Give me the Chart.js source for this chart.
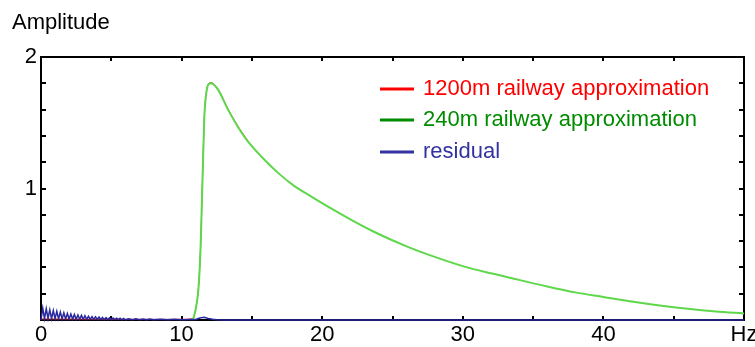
<!DOCTYPE html>
<html>
<head>
<meta charset="utf-8">
<script src="https://cdn.jsdelivr.net/npm/chart.js@4"></script>
<style>
  html, body { margin: 0; padding: 0; background: #fff; }
  #wrap { width: 755px; height: 347px; }
</style>
</head>
<body>
<div id="wrap"><canvas id="chart" width="755" height="347"></canvas></div>
<script>
// Frequency axis (Hz) and amplitudes

// 240m railway approximation
const hzGreen = [10.8, 11.0, 11.2, 11.35, 11.5, 11.62, 11.75, 11.9, 12.1, 12.6, 13.3, 14.0, 14.7,
  15.7, 16.9, 18.0, 19.2, 20.6, 22.0, 23.6, 26.0, 28.0, 30.0, 32.0, 34.0, 36.0, 38.0, 40.0, 42.0,
  44.0, 46.0, 48.0, 50.0];
const green240 = [0.0, 0.08, 0.24, 0.55, 1.12, 1.55, 1.72, 1.79, 1.80, 1.75, 1.60, 1.47, 1.36,
  1.24, 1.115, 1.02, 0.94, 0.85, 0.765, 0.675, 0.56, 0.48, 0.41, 0.355, 0.305, 0.255, 0.21, 0.175,
  0.14, 0.11, 0.085, 0.065, 0.05];

// 1200m railway approximation (flat until ~11 Hz, then under the 240m curve)
const hzRed = [0, 2, 4, 6, 8, 10, 10.8, 11.0, 11.2, 11.35, 11.5, 11.62, 11.75, 11.9, 12.1, 12.6,
  13.3, 14.0, 14.7];
const red1200 = [0.008, 0.007, 0.006, 0.005, 0.005, 0.005, 0.01, 0.085, 0.245, 0.555, 1.125, 1.555,
  1.725, 1.795, 1.805, 1.755, 1.605, 1.475, 1.365];

// residual: ripple near 0 Hz, small bump near 11.5 Hz, then zero
const hzResidual = [0, 0.125, 0.25, 0.375, 0.5, 0.625, 0.75, 0.875, 1.0, 1.125, 1.25, 1.375, 1.5, 1.625,
  1.75, 1.875, 2.0, 2.125, 2.25, 2.375, 2.5, 2.625, 2.75, 2.875, 3.0, 3.125, 3.25, 3.375, 3.5, 3.625,
  3.75, 3.875, 4.0, 4.125, 4.25, 4.375, 4.5, 4.625, 4.75, 4.875, 5.0, 5.125, 5.25, 5.375, 5.5, 5.625,
  5.75, 5.875, 6.0, 6.25, 6.5, 6.75, 7.0, 7.25, 7.5, 7.75, 8.0, 8.5, 9.0, 9.5, 10.0, 10.5, 11.0, 11.3,
  11.6, 11.9, 12.2, 12.5, 13.0, 20.0, 30.0, 40.0, 50.0];
const residual = [0.0, 0.09, 0.01, 0.085, 0.012, 0.078, 0.01, 0.072, 0.01, 0.066, 0.009, 0.06, 0.008,
  0.055, 0.008, 0.05, 0.007, 0.046, 0.007, 0.042, 0.006, 0.038, 0.006, 0.035, 0.005, 0.032, 0.005, 0.029,
  0.005, 0.026, 0.004, 0.024, 0.004, 0.022, 0.004, 0.02, 0.003, 0.018, 0.003, 0.017, 0.003, 0.015, 0.003,
  0.014, 0.003, 0.013, 0.002, 0.012, 0.002, 0.01, 0.002, 0.009, 0.002, 0.008, 0.002, 0.007, 0.002,
  0.006, 0.002, 0.005, 0.002, 0.003, 0.004, 0.015, 0.02, 0.012, 0.006, 0.002, 0.0, 0.0, 0.0, 0.0, 0.0];

const xTicks = [0, 10, 20, 30, 40, 50];
const xTickLabels = ["0", "10", "20", "30", "40", "Hz"];
const yTicks = [0, 1, 2];
const yTickLabels = ["", "1", "2"];

const seriesNames = ["1200m railway approximation", "240m railway approximation", "residual"];
const legendColors = ["rgb(255,0,0)", "rgb(0,140,0)", "rgb(50,50,160)"];

const FONT = '"Liberation Sans", Arial, sans-serif';

function toPoints(xs, ys) {
  return xs.map((x, i) => ({ x: x, y: ys[i] }));
}

// Frame and inward ticks, drawn under the lines
const framePlugin = {
  id: "frame",
  beforeDatasetsDraw(chart) {
    const { ctx, chartArea: a, scales } = chart;
    const l = Math.round(a.left), r = Math.round(a.right);
    const t = Math.round(a.top), b = Math.round(a.bottom);
    ctx.save();
    ctx.strokeStyle = "#000";
    ctx.lineWidth = 2;
    ctx.strokeRect(l, t, r - l, b - t);
    ctx.beginPath();
    for (let v = 5; v < 50; v += 5) {
      const px = Math.round(scales.x.getPixelForValue(v));
      ctx.moveTo(px, b); ctx.lineTo(px, b - 4);
      ctx.moveTo(px, t); ctx.lineTo(px, t + 4);
    }
    for (let k = 1; k < 10; k++) {
      const py = Math.round(scales.y.getPixelForValue(k * 0.2));
      ctx.moveTo(l, py); ctx.lineTo(l + 5, py);
      ctx.moveTo(r, py); ctx.lineTo(r - 5, py);
    }
    ctx.stroke();
    ctx.restore();
  },
  afterDraw(chart) {
    const { ctx } = chart;
    ctx.save();
    ctx.font = "22px " + FONT;
    ctx.textBaseline = "middle";
    ctx.fillStyle = "#000";
    ctx.fillText("Amplitude", 12, 23);
    // legend inside the plot
    const rows = [89, 120, 152];
    seriesNames.forEach((name, i) => {
      ctx.strokeStyle = legendColors[i];
      ctx.lineWidth = 3;
      ctx.beginPath();
      ctx.moveTo(380, rows[i]);
      ctx.lineTo(414, rows[i]);
      ctx.stroke();
      ctx.fillStyle = legendColors[i];
      ctx.fillText(name, 423, rows[i]);
    });
    ctx.restore();
  },
};

const ctx = document.getElementById("chart").getContext("2d");
const chart = new Chart(ctx, {
  type: "line",
  data: {
    datasets: [
      {
        label: seriesNames[0],
        data: toPoints(hzRed, red1200),
        borderColor: "rgb(210,40,30)",
        borderWidth: 1,
        pointRadius: 0,
        cubicInterpolationMode: "monotone",
        order: 3,
        clip: 4,
      },
      {
        label: seriesNames[1],
        data: toPoints(hzGreen, green240),
        borderColor: "rgb(95,215,75)",
        borderWidth: 2,
        pointRadius: 0,
        cubicInterpolationMode: "monotone",
        order: 2,
        clip: 4,
      },
      {
        label: seriesNames[2],
        data: toPoints(hzResidual, residual),
        borderColor: "rgb(40,40,160)",
        borderWidth: 1.5,
        pointRadius: 0,
        tension: 0,
        order: 1,
        clip: 4,
      },
    ],
  },
  options: {
    responsive: false,
    animation: false,
    layout: { padding: { top: 57, right: 11, left: 0, bottom: 0 } },
    plugins: {
      legend: { display: false },
      tooltip: { enabled: false },
    },
    scales: {
      x: {
        type: "linear",
        min: 0,
        max: 50,
        grid: { display: false, drawTicks: false, tickLength: 0 },
        border: { display: false },
        afterBuildTicks(scale) {
          scale.ticks = xTicks.map((v) => ({ value: v }));
        },
        afterFit(scale) {
          scale.height = 27;
          scale.paddingLeft = 0;
          scale.paddingRight = 0;
        },
        ticks: {
          color: "#000",
          padding: 2,
          maxRotation: 0,
          font: { family: FONT, size: 22 },
          callback: (v) => xTickLabels[xTicks.indexOf(v)],
        },
      },
      y: {
        type: "linear",
        min: 0,
        max: 2,
        grid: { display: false, drawTicks: false, tickLength: 0 },
        border: { display: false },
        afterBuildTicks(scale) {
          scale.ticks = yTicks.map((v) => ({ value: v }));
        },
        afterFit(scale) {
          scale.width = 41;
          scale.paddingTop = 0;
          scale.paddingBottom = 0;
        },
        ticks: {
          color: "#000",
          padding: 4,
          font: { family: FONT, size: 22 },
          callback: (v) => yTickLabels[yTicks.indexOf(v)],
        },
      },
    },
  },
  plugins: [framePlugin],
});
</script>
</body>
</html>
